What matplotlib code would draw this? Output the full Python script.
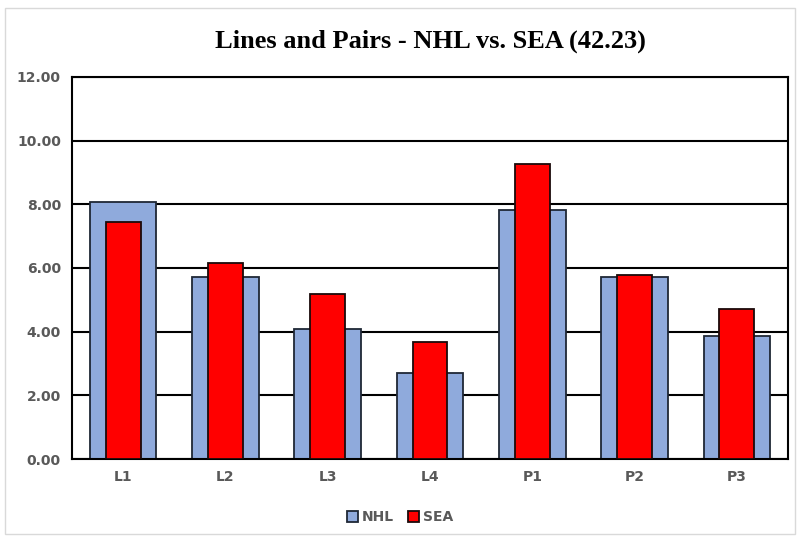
import matplotlib
matplotlib.use('Agg')
import matplotlib.pyplot as plt
import numpy as np
from matplotlib.patches import Rectangle

# Data
categories = ['L1', 'L2', 'L3', 'L4', 'P1', 'P2', 'P3']
nhl = [8.08, 5.72, 4.08, 2.70, 7.82, 5.72, 3.87]
sea = [7.45, 6.16, 5.18, 3.68, 9.25, 5.78, 4.72]

fig = plt.figure(figsize=(8, 5.39), dpi=100)
ax = fig.add_axes([0.09, 0.1484, 0.895, 0.709])

# outer chart border
fig.patches.append(Rectangle((0.006, 0.01), 0.988, 0.975, transform=fig.transFigure,
                             fill=False, edgecolor='#d9d9d9', linewidth=1.0))

x = np.arange(len(categories))
ax.bar(x, nhl, width=0.65, color='#8faadc', edgecolor='#1f2735', linewidth=1.3,
       label='NHL', zorder=2)
ax.bar(x, sea, width=0.34, color='#ff0000', edgecolor='#1a0a0a', linewidth=1.3,
       label='SEA', zorder=3)

ax.set_xlim(-0.5, len(categories) - 0.5)
ax.set_ylim(0, 12)
ax.set_yticks(np.arange(0, 12.01, 2))
ax.set_yticklabels([f'{v:.2f}' for v in np.arange(0, 12.01, 2)])
ax.set_xticks(x)
ax.set_xticklabels(categories)
ax.yaxis.grid(True, color='black', linewidth=1.5, zorder=1)
ax.set_axisbelow(True)
for s in ax.spines.values():
    s.set_linewidth(1.5)
    s.set_color('black')
ax.tick_params(length=0, labelsize=10, labelcolor='#595959', pad=8)
for lbl in ax.get_xticklabels() + ax.get_yticklabels():
    lbl.set_fontweight('bold')

# title centred over the plot area
fig.suptitle('Lines and Pairs - NHL vs. SEA (42.23)', x=0.5375, y=0.945, fontsize=19,
             fontweight='bold', family='Liberation Serif')

leg = fig.legend(loc='center', bbox_to_anchor=(0.5, 0.04), ncol=2, frameon=False,
                 handlelength=0.8, handleheight=0.8, handletextpad=0.3, columnspacing=1.0,
                 prop={'weight': 'bold', 'size': 10})
for t in leg.get_texts():
    t.set_color('#595959')

fig.savefig('out.png', dpi=100)
